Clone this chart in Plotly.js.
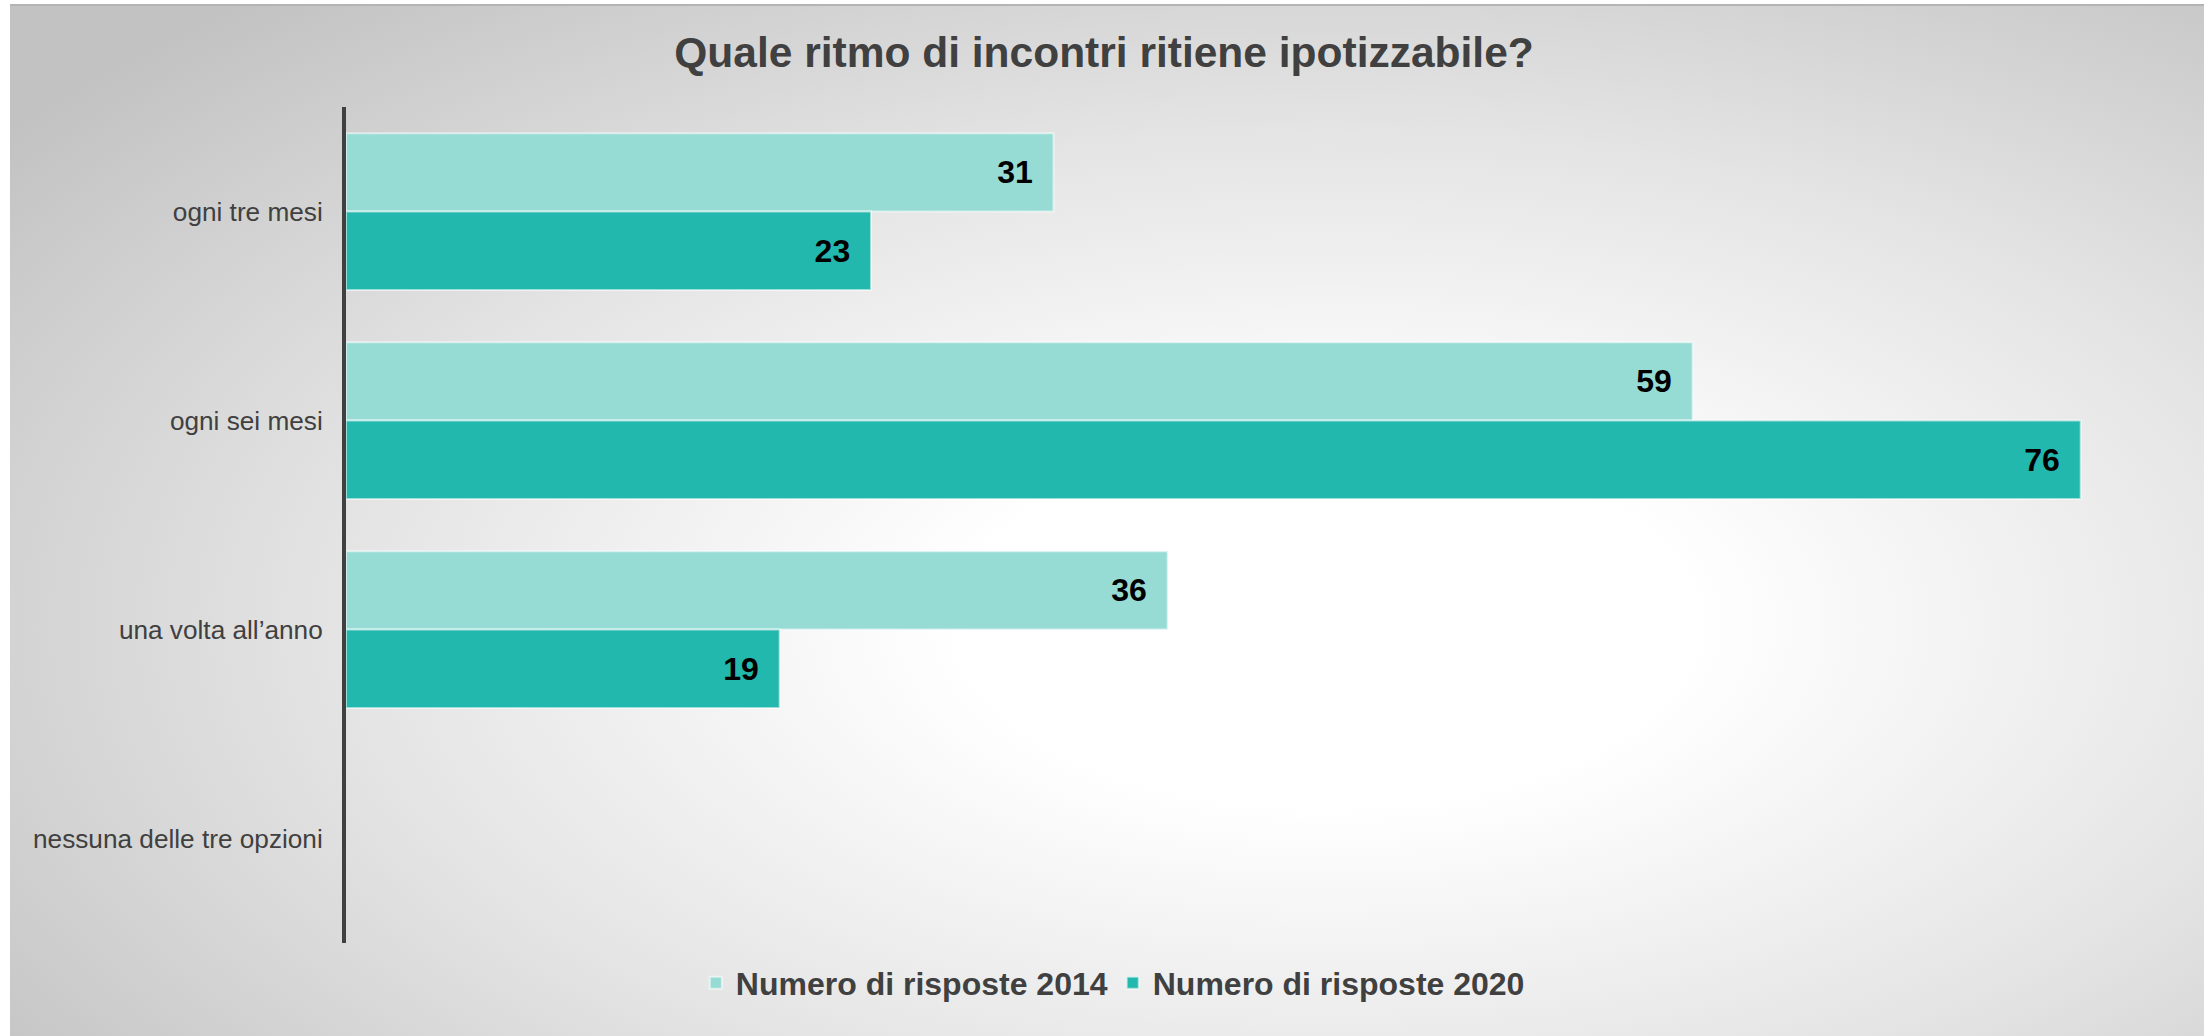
<!DOCTYPE html>
<html>
<head>
<meta charset="utf-8">
<script src="https://cdn.plot.ly/plotly-3.0.1.min.js"></script>
<style>
    body { margin: 0; background: #ffffff; }
    #sfondo {
        position: absolute; left: 10px; top: 4px; width: 2194px; height: 1032px;
        border-top: 2px solid #b4b4b4; box-sizing: border-box;
        background: radial-gradient(ellipse 75% 80% at 60% 60%, #ffffff 0%, #ffffff 22%, #e4e4e4 60%, #c2c2c2 100%);
    }
    #grafico { position: absolute; left: 0; top: 0; width: 2208px; height: 1036px; }
</style>
</head>
<body>
<div id="sfondo"></div>
<div id="grafico"></div>
<script>
const config = {
    responsive: false,
    displayModeBar: false
}

// Categorie e valori
const categorie = ['ogni tre mesi', 'ogni sei mesi', 'una volta all’anno', 'nessuna delle tre opzioni'];
const risposte2014 = [31, 59, 36, null];
const risposte2020 = [23, 76, 19, null];
const nomiSerie = ['Numero di risposte 2014', 'Numero di risposte 2020'];
const colori = ['#97dcd4', '#23b8ad'];

const famiglia = 'Liberation Sans';

function barra(valori, nome, colore) {
    return {
        x: valori,
        y: categorie,
        name: nome,
        type: 'bar',
        orientation: 'h',
        text: valori.map(v => v == null ? '' : v + '\u00a0\u00a0'),
        textposition: 'inside',
        insidetextanchor: 'end',
        constraintext: 'none',
        insidetextfont: { family: famiglia, size: 32, color: '#000000', weight: 'bold' },
        marker: {
            color: colore,
            line: { color: 'rgba(255,255,255,0.55)', width: 2 }
        },
        hoverinfo: 'skip'
    }
}

const dati = [
    barra(risposte2014, nomiSerie[0], colori[0]),
    barra(risposte2020, nomiSerie[1], colori[1])
];

const layout = {
    width: 2208,
    height: 1036,
    paper_bgcolor: 'rgba(0,0,0,0)',
    plot_bgcolor: 'rgba(0,0,0,0)',
    margin: { l: 346, r: 36, t: 107, b: 93 },
    barmode: 'group',
    bargap: 0.25,
    bargroupgap: 0,
    font: { family: famiglia, color: '#404040' },
    title: {
        text: '<b>Quale ritmo di incontri ritiene ipotizzabile?</b>',
        font: { family: famiglia, size: 42.5, color: '#404040' },
        x: 0.5,
        xanchor: 'center',
        y: 1 - 52 / 1036,
        yanchor: 'middle'
    },
    xaxis: {
        range: [0, 80],
        visible: false,
        showgrid: false,
        zeroline: false
    },
    yaxis: {
        type: 'category',
        categoryorder: 'array',
        categoryarray: categorie,
        autorange: 'reversed',
        showgrid: false,
        zeroline: false,
        showline: true,
        linecolor: '#404040',
        linewidth: 4,
        ticks: 'outside',
        ticklen: 14,
        tickcolor: 'rgba(0,0,0,0)',
        tickfont: { family: famiglia, size: 26.2, color: '#404040' }
    },
    legend: {
        orientation: 'h',
        xref: 'container',
        yref: 'container',
        x: 0.504,
        xanchor: 'center',
        y: 1 - 983 / 1036,
        yanchor: 'middle',
        font: { family: famiglia, size: 32, color: '#404040', weight: 'bold' },
        itemwidth: 30,
        bgcolor: 'rgba(0,0,0,0)'
    },
    showlegend: true
};

Plotly.newPlot('grafico', dati, layout, config);
</script>
</body>
</html>
